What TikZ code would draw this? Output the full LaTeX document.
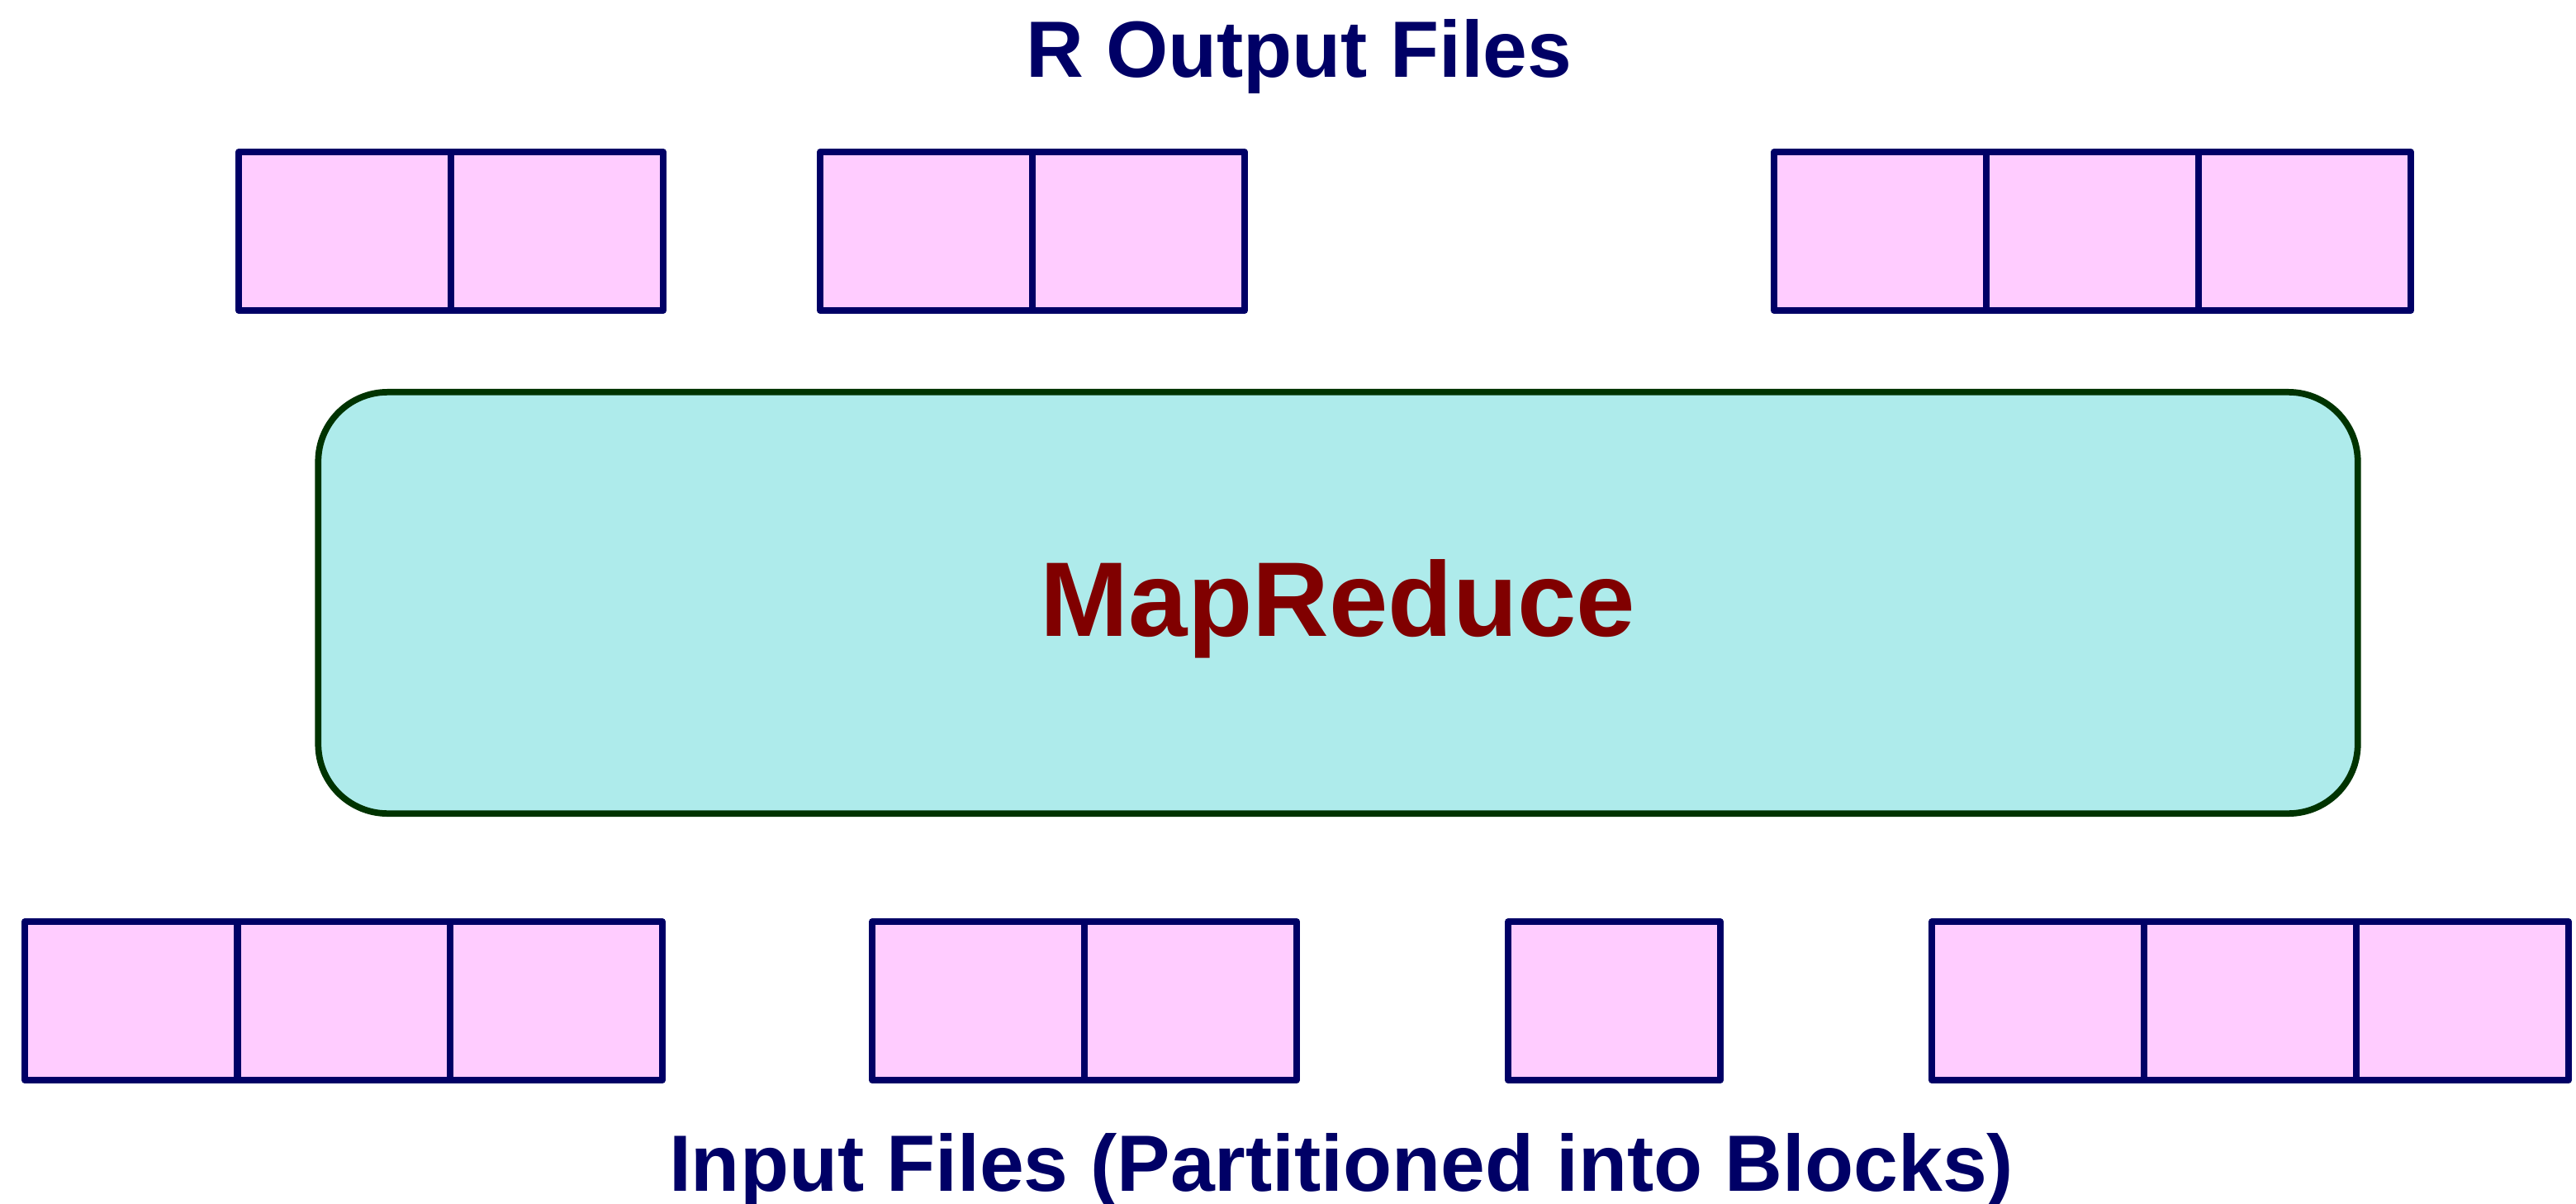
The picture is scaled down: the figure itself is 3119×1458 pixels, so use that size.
\documentclass[tikz,border=0pt]{standalone}
\usepackage{fontspec}
\setmainfont{Liberation Sans}
\definecolor{navytext}{HTML}{000066}
\definecolor{blockfill}{HTML}{FFCCFF}
\definecolor{mrfill}{HTML}{AEEBEB}
\definecolor{mrborder}{HTML}{003300}
\definecolor{mrtext}{HTML}{800000}
\begin{document}
\begin{tikzpicture}[x=0.01cm, y=-0.01cm,
  block/.style={draw=navytext, fill=blockfill, line width=2.2pt, line join=round,
    minimum width=2.57cm, minimum height=1.92cm, inner sep=0pt, outer sep=0pt, anchor=north west},
  engine/.style={draw=mrborder, fill=mrfill, line width=2.2pt, rounded corners=0.84cm,
    minimum width=24.68cm, minimum height=5.10cm, inner sep=0pt, outer sep=0pt},
  caption/.style={text=navytext, font=\fontsize{27.5}{30}\selectfont\bfseries, anchor=base, inner sep=0pt}]
  \useasboundingbox (0,0) rectangle (3119,1458);
  \fill[white] (0,0) rectangle (3119,1458);

  % output files (top row)
  \node[caption] (outlabel) at (1573,94) {R Output Files};
  \foreach \i/\x in {1/289, 2/546}
    \node[block] (outA\i) at (\x,184) {};
  \foreach \i/\x in {1/993, 2/1250}
    \node[block] (outB\i) at (\x,184) {};
  \foreach \i/\x in {1/2148, 2/2405, 3/2662}
    \node[block] (outC\i) at (\x,184) {};

  % the MapReduce engine
  \node[engine] (mr) at (1620,730) {};
  \node[text=mrtext, font=\fontsize{36.5}{40}\selectfont\bfseries, anchor=base, inner sep=0pt]
    (mrlabel) at (1620,770) {MapReduce};

  % input files (bottom row)
  \foreach \i/\x in {1/30, 2/288, 3/545}
    \node[block] (inA\i) at (\x,1116) {};
  \foreach \i/\x in {1/1056, 2/1313}
    \node[block] (inB\i) at (\x,1116) {};
  \node[block] (inC1) at (1826,1116) {};
  \foreach \i/\x in {1/2339, 2/2596, 3/2853}
    \node[block] (inD\i) at (\x,1116) {};
  \node[caption] (inlabel) at (1624,1442) {Input Files (Partitioned into Blocks)};
\end{tikzpicture}
\end{document}
